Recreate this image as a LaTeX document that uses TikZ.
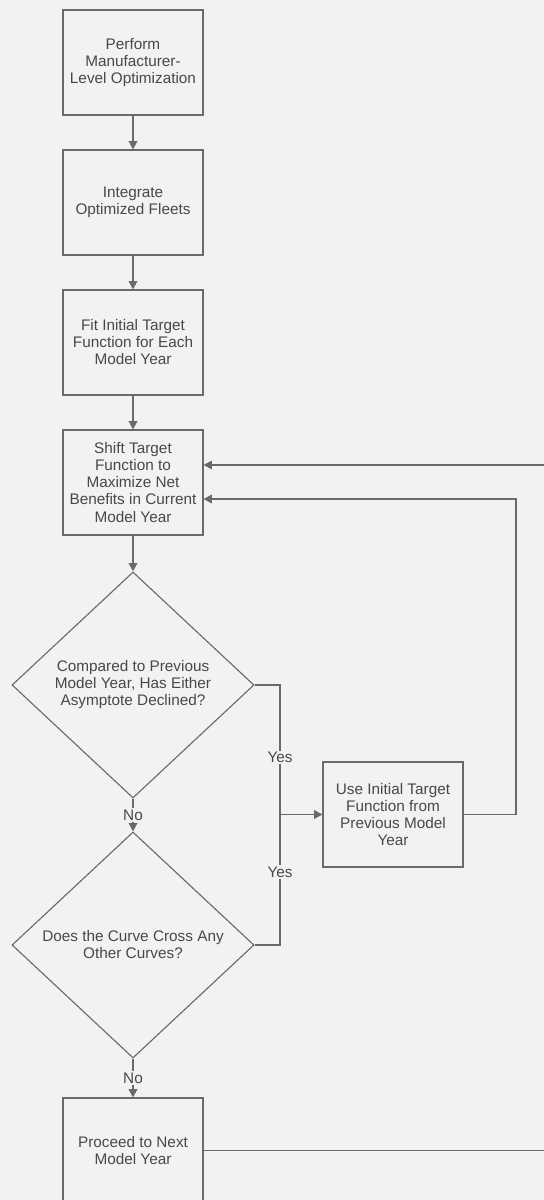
\documentclass[tikz,border=0pt]{standalone}
\usepackage{fontspec}
\setmainfont{Liberation Sans}
\usepackage{tikz}
\usetikzlibrary{positioning,arrows.meta,calc,shapes.geometric}
\definecolor{ink}{HTML}{6A6A6A}
\definecolor{txt}{HTML}{484848}
\definecolor{paper}{HTML}{F2F2F2}
\tikzset{
  box/.style={draw=ink,fill=paper,line width=0.8pt,minimum width=35mm,minimum height=26.25mm,inner sep=2pt,align=center,text=txt},
  decision/.style={diamond,draw=ink,fill=paper,line width=0.8pt,minimum width=60.5mm,minimum height=56.5mm,inner sep=0pt,align=center,text=txt},
  flow/.style={-{Triangle[length=2.1mm,width=2.2mm]},draw=ink,line width=0.8pt},
  line/.style={draw=ink,line width=0.8pt},
  lbl/.style={fill=paper,inner sep=1pt,text=txt}}

\begin{document}
\begin{tikzpicture}[x=0.025cm,y=-0.025cm,font=\fontsize{10.9}{12.1}\selectfont]
  \fill[paper] (0,0) rectangle (544,1200);
  \useasboundingbox (0,0) rectangle (544,1200);
  % main column
  \node[box] (perf) at (133,62.5)  {Perform\\Manufacturer-\\Level Optimization};
  \node[box] (integ) at (133,202.5) {Integrate\\Optimized Fleets};
  \node[box] (fit) at (133,342.5)   {Fit Initial Target\\Function for Each\\Model Year};
  \node[box] (shift) at (133,482.5) {Shift Target\\Function to\\Maximize Net\\Benefits in Current\\Model Year};
  \node[decision] (asym) at (133,685) {Compared to Previous\\Model Year, Has Either\\Asymptote Declined?};
  \node[decision] (cross) at (133,945) {Does the Curve Cross Any\\Other Curves?};
  \node[box] (prev) at (393,814.5) {Use Initial Target\\Function from\\Previous Model\\Year};
  \node[box] (next) at (133,1150.5) {Proceed to Next\\Model Year};
  \coordinate (join) at (280,814.5);
  % arrows
  \draw[flow] (perf) -- (integ);
  \draw[flow] (integ) -- (fit);
  \draw[flow] (fit) -- (shift);
  \draw[flow] (shift) -- (asym);
  \draw[flow] (asym) -- node[lbl]{No} (cross);
  \draw[flow] (cross) -- node[lbl,pos=0.5]{No} (next);
  \draw[line] (asym.east) -| node[lbl,pos=0.78]{Yes} (join);
  \draw[line] (cross.east) -| node[lbl,pos=0.78]{Yes} (join);
  \draw[flow] (join) -- (prev.west);
  \draw[flow] (prev.east) -- (516,814.5) |- ($(shift.east)+(0,16.5)$);
  \draw[flow] (next.east) -- (552,1150.5) |- ($(shift.east)+(0,-17.5)$);
\end{tikzpicture}
\end{document}
